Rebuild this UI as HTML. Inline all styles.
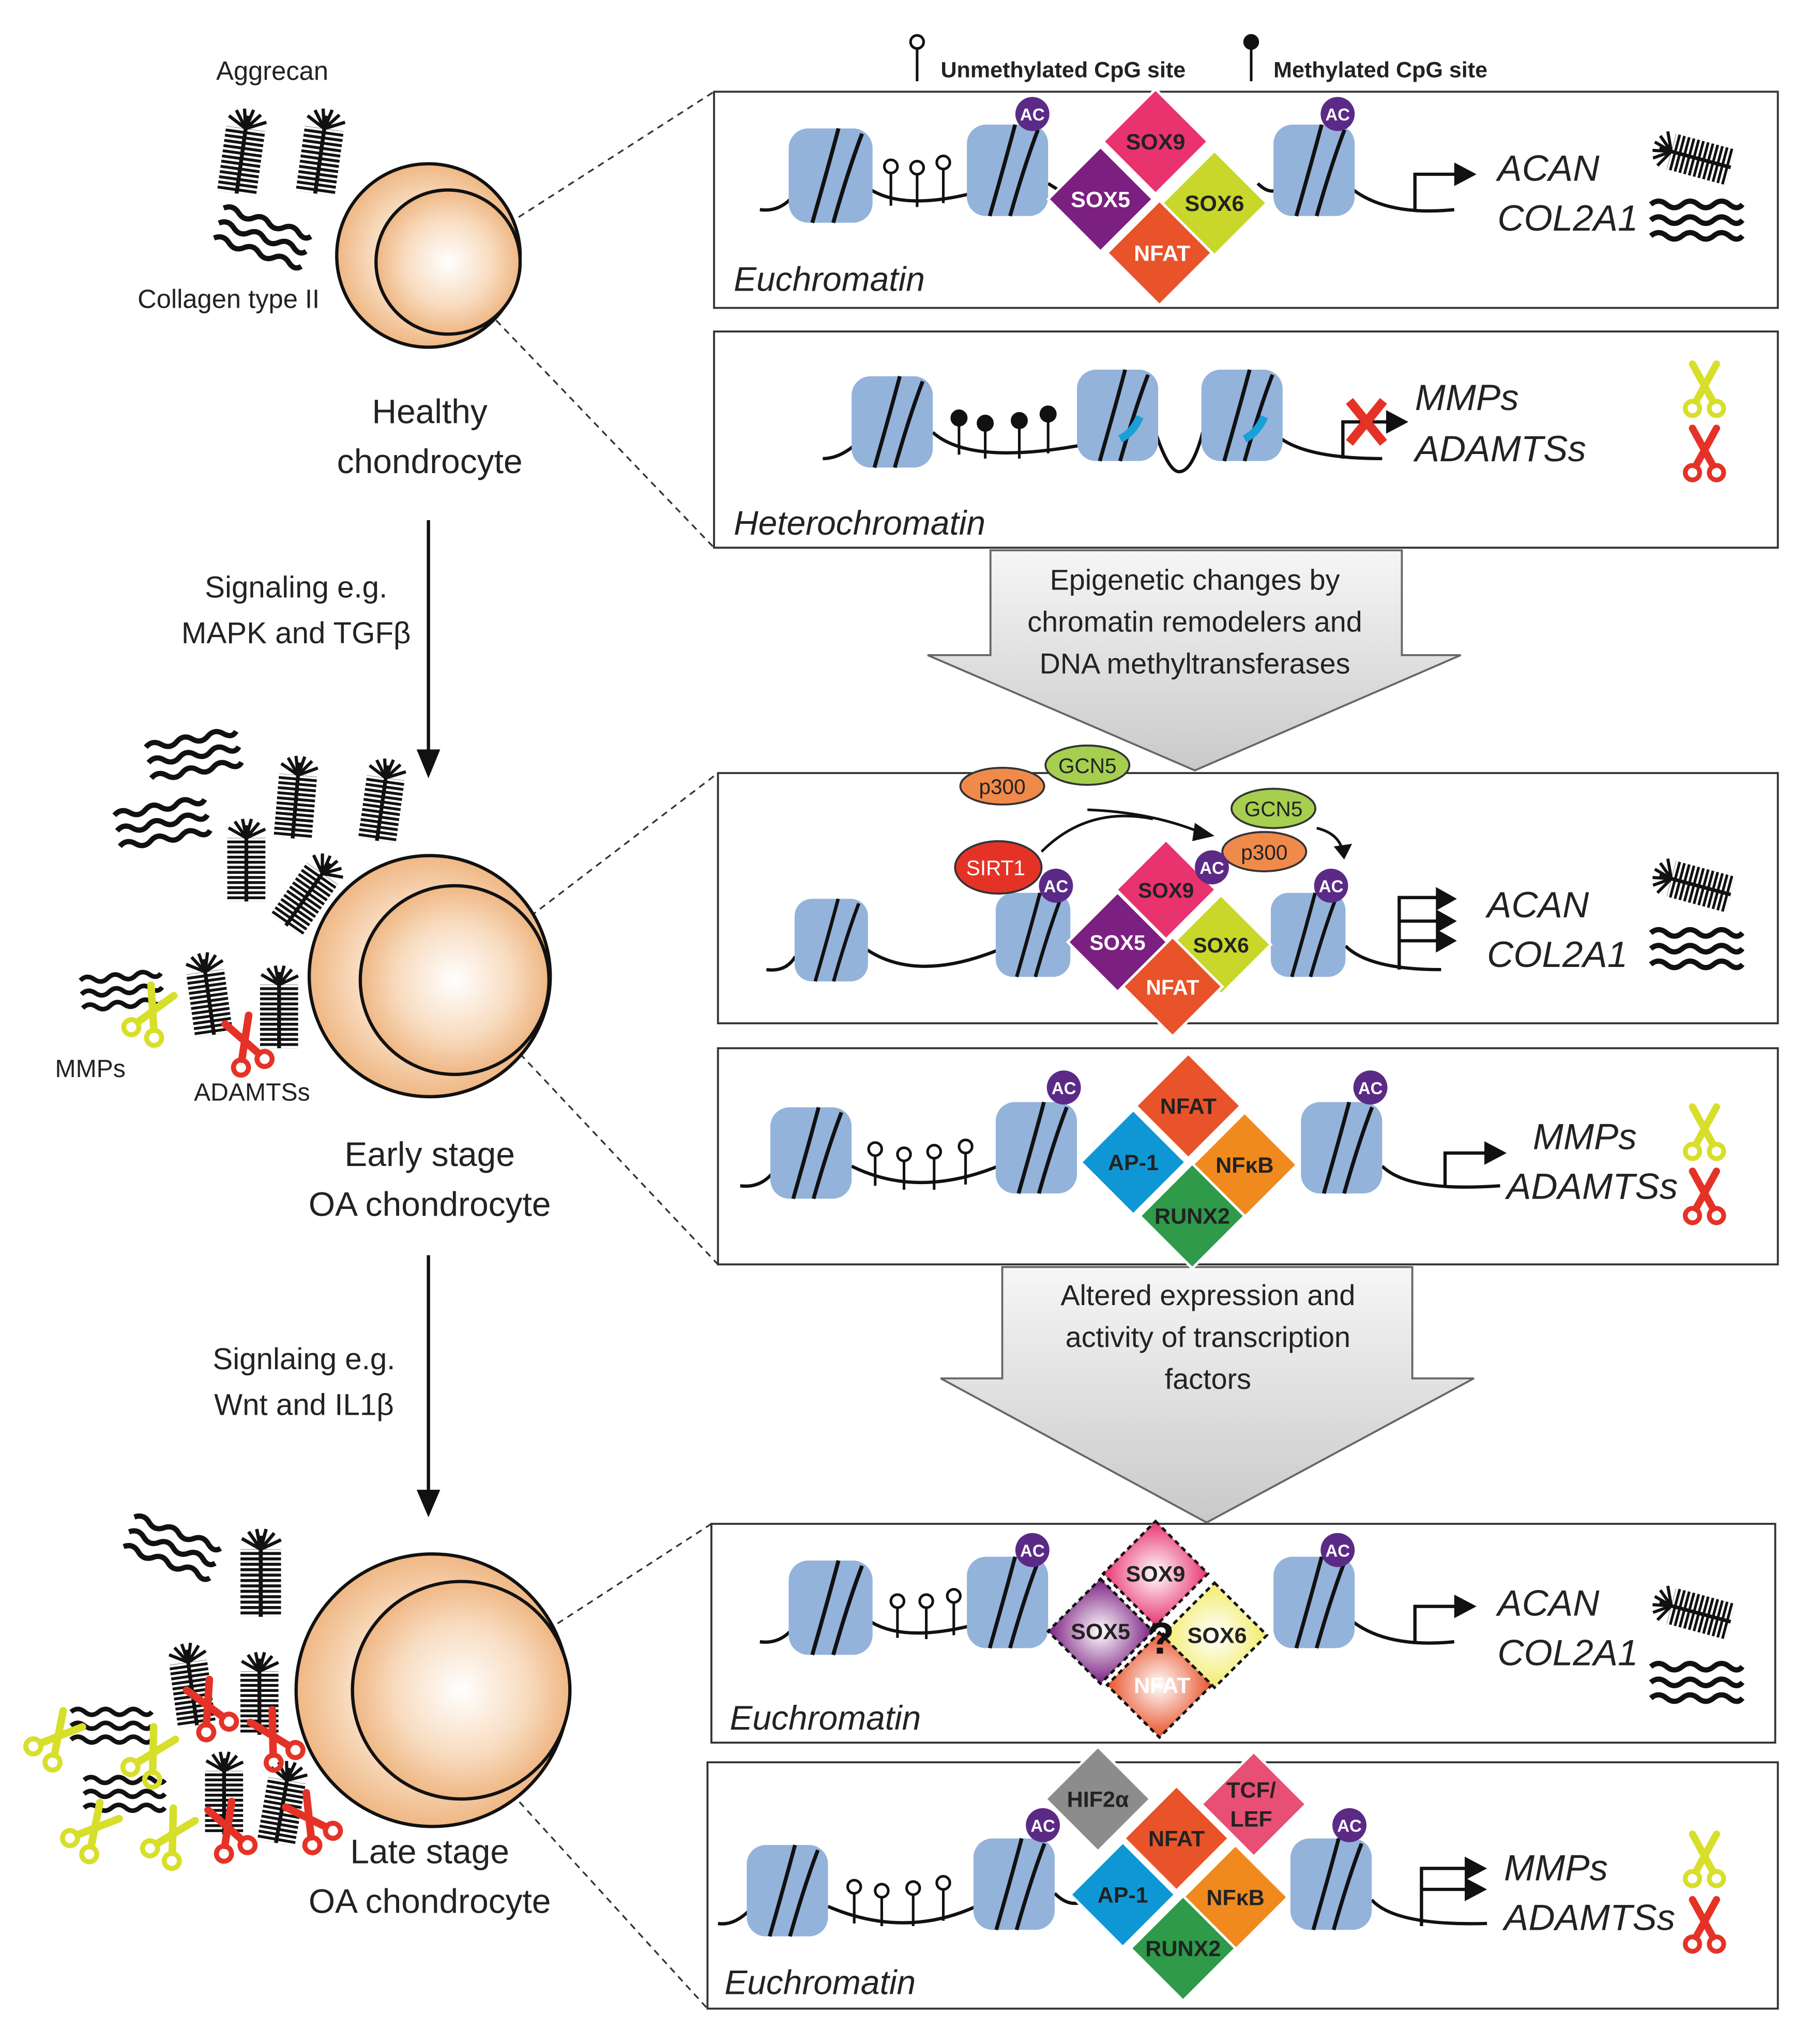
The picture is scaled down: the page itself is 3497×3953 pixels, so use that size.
<!DOCTYPE html>
<html><head><meta charset="utf-8"><style>
html,body{margin:0;padding:0;background:#fff}
svg{display:block}
text{font-family:"Liberation Sans",sans-serif}
</style></head><body>
<svg width="3497" height="3953" viewBox="0 0 1380 1560" xmlns="http://www.w3.org/2000/svg">
<defs>
<radialGradient id="cell" cx="0.5" cy="0.5" r="0.5"><stop offset="0" stop-color="#fff"/><stop offset="0.6" stop-color="#f8dcc0"/><stop offset="1" stop-color="#efb784"/></radialGradient>
<linearGradient id="arr" x1="0" y1="0" x2="0" y2="1"><stop offset="0" stop-color="#f6f6f6"/><stop offset="1" stop-color="#c9c9c9"/></linearGradient>
<symbol id="nuc" viewBox="0 0 64 72" overflow="visible"><rect x="0" y="0" width="64" height="72" rx="15" fill="#93b3da"/><path d="M18 72 Q30 30 38 0 M34 72 Q46 30 56 4" stroke="#111" stroke-width="3" fill="none"/></symbol>
<symbol id="ac" viewBox="-14 -14 28 28" overflow="visible"><circle r="13" fill="#5b2a86"/><text y="5" text-anchor="middle" font-size="13" font-weight="bold" fill="#fff">AC</text></symbol>
<symbol id="sc" viewBox="0 0 40 48" overflow="visible"><g stroke="currentColor" stroke-width="6" fill="none" stroke-linecap="round"><path d="M13 33 L30 2 M27 33 L10 2"/><circle cx="10" cy="39" r="6" stroke-width="4"/><circle cx="30" cy="39" r="6" stroke-width="4"/></g></symbol>
<pattern id="str" width="6" height="4" patternUnits="userSpaceOnUse"><rect width="6" height="2.2" fill="#111"/></pattern>
<symbol id="agg" viewBox="0 0 32 64" overflow="visible"><rect x="1" y="14" width="30" height="50" fill="url(#str)"/><line x1="16" y1="4" x2="16" y2="64" stroke="#111" stroke-width="3"/><path d="M16 14 L2 6 M16 14 L7 1 M16 14 L13 -1 M16 14 L20 -1 M16 14 L26 2 M16 14 L31 7" stroke="#111" stroke-width="2.5"/></symbol>
<symbol id="col" viewBox="0 0 70 34" overflow="visible"><g stroke="#111" stroke-width="4" fill="none"><path d="M0 4 q6 -5 12 0 t12 0 t12 0 t12 0 t12 0 t10 0"/><path d="M0 16 q6 -5 12 0 t12 0 t12 0 t12 0 t12 0 t10 0"/><path d="M0 28 q6 -5 12 0 t12 0 t12 0 t12 0 t12 0 t10 0"/></g></symbol>
</defs>
<rect width="1380" height="1560" fill="#fff"/>

<!-- Legend -->
<g stroke="#111" stroke-width="2"><line x1="700" y1="36" x2="700" y2="62"/><circle cx="700" cy="32" r="5" fill="#fff"/><line x1="955" y1="36" x2="955" y2="62"/><circle cx="955" cy="32" r="5" fill="#111"/></g>
<text x="718" y="59" font-size="17" font-weight="bold" fill="#222">Unmethylated CpG site</text>
<text x="972" y="59" font-size="17" font-weight="bold" fill="#222">Methylated CpG site</text>

<!-- Boxes -->
<g fill="none" stroke="#333" stroke-width="1.5">
<rect x="545" y="70" width="812" height="165"/><rect x="545" y="253" width="812" height="165"/>
<rect x="548" y="590" width="809" height="191"/><rect x="548" y="800" width="809" height="165"/>
<rect x="543" y="1163" width="812" height="167"/><rect x="540" y="1345" width="817" height="188"/>
</g>
<!-- Dashed connectors -->
<g stroke="#333" stroke-width="1.3" stroke-dasharray="5,4">
<line x1="358" y1="190" x2="545" y2="70"/><line x1="360" y1="225" x2="545" y2="418"/>
<line x1="362" y1="732" x2="548" y2="590"/><line x1="360" y1="765" x2="548" y2="965"/>
<line x1="350" y1="1288" x2="543" y2="1163"/><line x1="348" y1="1322" x2="540" y2="1533"/>
</g>

<!-- Big arrows -->
<path d="M756 420 H1070 V500 H1115 L912 588 L708 500 H756 Z" fill="url(#arr)" stroke="#666" stroke-width="1.5"/>
<path d="M765 967 H1078 V1052 H1125 L921 1162 L718 1052 H765 Z" fill="url(#arr)" stroke="#666" stroke-width="1.5"/>
<g font-size="22" fill="#222" text-anchor="middle">
<text x="912" y="450">Epigenetic changes by</text><text x="912" y="482">chromatin remodelers and</text><text x="912" y="514">DNA methyltransferases</text>
<text x="922" y="996">Altered expression and</text><text x="922" y="1028">activity of transcription</text><text x="922" y="1060">factors</text>
</g>

<!-- Cells -->
<circle cx="327" cy="195" r="70" fill="url(#cell)" stroke="#111" stroke-width="2.5"/>
<circle cx="342" cy="200" r="55" fill="url(#cell)" stroke="#111" stroke-width="2.5"/>
<circle cx="328" cy="745" r="92" fill="url(#cell)" stroke="#111" stroke-width="2.5"/>
<circle cx="347" cy="748" r="72" fill="url(#cell)" stroke="#111" stroke-width="2.5"/>
<circle cx="330" cy="1290" r="104" fill="url(#cell)" stroke="#111" stroke-width="2.5"/>
<circle cx="352" cy="1290" r="83" fill="url(#cell)" stroke="#111" stroke-width="2.5"/>

<!-- Vertical arrows -->
<g stroke="#111" stroke-width="2.5"><line x1="327" y1="397" x2="327" y2="578"/><line x1="327" y1="958" x2="327" y2="1143"/></g>
<path d="M318 572 L327 594 L336 572 Z M318 1137 L327 1158 L336 1137 Z" fill="#111"/>

<!-- Left texts -->
<g fill="#222">
<text x="165" y="61" font-size="20">Aggrecan</text>
<text x="105" y="235" font-size="20">Collagen type II</text>
<g font-size="26" text-anchor="middle">
<text x="328" y="323">Healthy</text><text x="328" y="361">chondrocyte</text>
<text x="328" y="890">Early stage</text><text x="328" y="928">OA chondrocyte</text>
<text x="328" y="1422">Late stage</text><text x="328" y="1460">OA chondrocyte</text>
</g>
<g font-size="23" text-anchor="middle">
<text x="226" y="456">Signaling e.g.</text><text x="226" y="491">MAPK and TGFβ</text>
<text x="232" y="1045">Signlaing e.g.</text><text x="232" y="1080">Wnt and IL1β</text>
</g>
<text x="42" y="822" font-size="19">MMPs</text><text x="148" y="840" font-size="19">ADAMTSs</text>
</g>

<!-- Left ECM icons -->
<use href="#agg" x="168" y="84" width="34" height="64" transform="rotate(8 185 116)"/>
<use href="#agg" x="228" y="84" width="34" height="64" transform="rotate(8 245 116)"/>
<use href="#col" x="165" y="165" width="70" height="34" transform="rotate(18 200 182)"/>
<use href="#col" x="112" y="560" width="72" height="34" transform="rotate(-10 148 577)"/>
<use href="#col" x="88" y="612" width="72" height="34" transform="rotate(-10 124 629)"/>
<use href="#agg" x="210" y="578" width="32" height="62" transform="rotate(5 226 609)"/>
<use href="#agg" x="276" y="580" width="32" height="62" transform="rotate(8 292 611)"/>
<use href="#agg" x="172" y="626" width="32" height="62"/>
<use href="#agg" x="220" y="650" width="32" height="62" transform="rotate(35 236 681)"/>
<use href="#col" x="58" y="742" width="70" height="30" transform="rotate(-5 93 757)"/>
<use href="#agg" x="143" y="728" width="32" height="62" transform="rotate(-8 159 759)"/>
<use href="#agg" x="197" y="738" width="32" height="62"/>
<use href="#sc" x="95" y="752" width="40" height="46" color="#d7df2a" transform="rotate(25 115 775)"/>
<use href="#sc" x="168" y="775" width="40" height="46" color="#e53227" transform="rotate(-20 188 798)"/>
<use href="#col" x="95" y="1165" width="72" height="34" transform="rotate(20 131 1182)"/>
<use href="#agg" x="182" y="1168" width="34" height="66"/>
<use href="#agg" x="130" y="1255" width="32" height="62" transform="rotate(-8 146 1286)"/>
<use href="#agg" x="182" y="1262" width="32" height="62"/>
<use href="#col" x="50" y="1303" width="70" height="30"/>
<use href="#col" x="60" y="1355" width="70" height="30"/>
<use href="#agg" x="155" y="1338" width="32" height="62"/>
<use href="#agg" x="200" y="1345" width="32" height="62" transform="rotate(10 216 1376)"/>
<use href="#sc" x="22" y="1305" width="40" height="46" color="#d7df2a" transform="rotate(40 42 1328)"/>
<use href="#sc" x="95" y="1318" width="40" height="46" color="#d7df2a" transform="rotate(30 115 1341)"/>
<use href="#sc" x="140" y="1282" width="40" height="46" color="#e53227" transform="rotate(-25 160 1305)"/>
<use href="#sc" x="190" y="1305" width="40" height="46" color="#e53227" transform="rotate(-30 210 1328)"/>
<use href="#sc" x="50" y="1375" width="40" height="46" color="#d7df2a" transform="rotate(40 70 1398)"/>
<use href="#sc" x="110" y="1380" width="40" height="46" color="#d7df2a" transform="rotate(30 130 1403)"/>
<use href="#sc" x="155" y="1375" width="40" height="46" color="#e53227" transform="rotate(-20 175 1398)"/>
<use href="#sc" x="218" y="1368" width="40" height="46" color="#e53227" transform="rotate(-35 238 1391)"/>

<!-- ===== Box1 ===== -->
<path d="M580 160 Q595 162 605 150 M665 145 Q690 160 740 148 M800 140 Q815 150 830 155 M960 140 Q968 148 975 145 M1033 145 Q1060 165 1110 160" stroke="#111" stroke-width="2.5" fill="none"/>
<use href="#nuc" x="602" y="98" width="64" height="72"/>
<use href="#nuc" x="738" y="94" width="62" height="72"/>
<use href="#nuc" x="972" y="94" width="62" height="72"/>
<g stroke="#111" stroke-width="2" fill="#fff"><line x1="680" y1="132" x2="680" y2="157"/><line x1="700" y1="132" x2="700" y2="158"/><line x1="720" y1="128" x2="720" y2="155"/><circle cx="680" cy="127" r="5"/><circle cx="700" cy="128" r="5"/><circle cx="720" cy="124" r="5"/></g>
<use href="#ac" x="774" y="73" width="28" height="28"/><use href="#ac" x="1007" y="73" width="28" height="28"/>
<g stroke="#fff" stroke-width="2" font-size="17" font-weight="bold" text-anchor="middle">
<polygon points="882,68 922,108 882,148 842,108" fill="#e8336f"/>
<polygon points="840,112 880,152 840,192 800,152" fill="#7b1f80"/>
<polygon points="927,115 967,155 927,195 887,155" fill="#c8d72a"/>
<polygon points="885,153 925,193 885,233 845,193" fill="#e8532a"/>
</g>
<g font-size="17" font-weight="bold" text-anchor="middle"><text x="882" y="114" fill="#222">SOX9</text><text x="840" y="158" fill="#fff">SOX5</text><text x="927" y="161" fill="#222">SOX6</text><text x="887" y="199" fill="#fff">NFAT</text></g>
<path d="M1080 160 V133 H1112" stroke="#111" stroke-width="2.5" fill="none"/><path d="M1110 124 L1127 133 L1110 142 Z" fill="#111"/>
<g font-size="28" font-style="italic" fill="#222"><text x="1143" y="138">ACAN</text><text x="1143" y="176">COL2A1</text><text x="560" y="222" font-size="26">Euchromatin</text></g>
<use href="#agg" x="1277" y="88" width="30" height="64" transform="rotate(-75 1292 120)"/>
<use href="#col" x="1260" y="152" width="70" height="34"/>

<!-- ===== Box2 ===== -->
<path d="M628 350 Q640 350 652 340 M712 330 Q740 355 824 340 M882 330 Q892 360 900 360 Q910 360 918 330 M978 335 Q1000 350 1055 350" stroke="#111" stroke-width="2.5" fill="none"/>
<use href="#nuc" x="650" y="287" width="62" height="70"/>
<use href="#nuc" x="822" y="282" width="62" height="70"/>
<use href="#nuc" x="917" y="282" width="62" height="70"/>
<path d="M855 335 Q865 330 870 318 M950 335 Q960 330 965 318" stroke="#1aa0d8" stroke-width="6" fill="none"/>
<g stroke="#111" stroke-width="2" fill="#111"><line x1="732" y1="322" x2="732" y2="347"/><line x1="752" y1="326" x2="752" y2="350"/><line x1="778" y1="324" x2="778" y2="350"/><line x1="800" y1="318" x2="800" y2="346"/><circle cx="732" cy="319" r="5.5"/><circle cx="752" cy="323" r="5.5"/><circle cx="778" cy="321" r="5.5"/><circle cx="800" cy="316" r="5.5"/></g>
<path d="M1025 350 V322 H1060" stroke="#111" stroke-width="2.5" fill="none"/><path d="M1058 313 L1075 322 L1058 331 Z" fill="#111"/>
<path d="M1030 306 L1056 338 M1056 306 L1030 338" stroke="#e53227" stroke-width="7"/>
<g font-size="28" font-style="italic" fill="#222"><text x="1080" y="313">MMPs</text><text x="1080" y="352">ADAMTSs</text><text x="560" y="408" font-size="26">Heterochromatin</text></g>
<use href="#sc" x="1282" y="276" width="38" height="44" color="#d7df2a"/>
<use href="#sc" x="1282" y="325" width="38" height="44" color="#e53227"/>

<!-- ===== Box3 ===== -->
<path d="M585 740 Q600 742 607 730 M662 725 Q700 750 762 725 M1027 722 Q1045 740 1100 740" stroke="#111" stroke-width="2.5" fill="none"/>
<use href="#nuc" x="606" y="686" width="57" height="63"/>
<use href="#nuc" x="760" y="681" width="57" height="65"/>
<use href="#nuc" x="970" y="681" width="57" height="65"/>
<path d="M830 618 Q880 620 918 636" stroke="#111" stroke-width="2" fill="none"/><path d="M912 628 L927 638 L910 642 Z" fill="#111"/>
<path d="M795 650 Q830 615 880 625" stroke="#111" stroke-width="2" fill="none"/>
<path d="M1005 632 Q1022 636 1025 650" stroke="#111" stroke-width="2" fill="none"/><path d="M1018 646 L1026 656 L1032 644 Z" fill="#111"/>
<g stroke="#333" stroke-width="1.5" font-size="17" text-anchor="middle">
<ellipse cx="765" cy="600" rx="32" ry="14" fill="#f08a4b"/><ellipse cx="830" cy="584" rx="32" ry="15" fill="#a6cf4f"/>
<ellipse cx="972" cy="617" rx="32" ry="15" fill="#a6cf4f"/><ellipse cx="965" cy="650" rx="32" ry="15" fill="#f08a4b"/>
<ellipse cx="762" cy="662" rx="33" ry="20" fill="#e53227"/>
</g>
<g font-size="16" text-anchor="middle" fill="#222"><text x="765" y="606">p300</text><text x="830" y="590">GCN5</text><text x="972" y="623">GCN5</text><text x="965" y="656">p300</text><text x="760" y="668" fill="#fff">SIRT1</text></g>
<g stroke="#fff" stroke-width="2">
<polygon points="890,641 928,679 890,717 852,679" fill="#e8336f"/>
<polygon points="853,681 891,719 853,757 815,719" fill="#7b1f80"/>
<polygon points="932,683 970,721 932,759 894,721" fill="#c8d72a"/>
<polygon points="895,715 933,753 895,791 857,753" fill="#e8532a"/>
</g>
<g font-size="16" font-weight="bold" text-anchor="middle"><text x="890" y="685" fill="#222">SOX9</text><text x="853" y="725" fill="#fff">SOX5</text><text x="932" y="727" fill="#222">SOX6</text><text x="895" y="759" fill="#fff">NFAT</text></g>
<use href="#ac" x="792" y="662" width="28" height="28"/><use href="#ac" x="911" y="648" width="28" height="28"/><use href="#ac" x="1002" y="662" width="28" height="28"/>
<path d="M1068 740 V685 H1098 M1068 703 H1098 M1068 718 H1098" stroke="#111" stroke-width="2.5" fill="none"/>
<path d="M1096 677 L1112 686 L1096 695 Z M1096 694 L1112 703 L1096 712 Z M1096 709 L1112 718 L1096 727 Z" fill="#111"/>
<g font-size="28" font-style="italic" fill="#222"><text x="1135" y="700">ACAN</text><text x="1135" y="738">COL2A1</text></g>
<use href="#agg" x="1277" y="643" width="30" height="64" transform="rotate(-75 1292 675)"/>
<use href="#col" x="1260" y="708" width="70" height="34"/>

<!-- ===== Box4 ===== -->
<path d="M565 905 Q580 907 590 895 M650 890 Q700 915 762 890 M1055 890 Q1075 910 1145 905" stroke="#111" stroke-width="2.5" fill="none"/>
<use href="#nuc" x="588" y="845" width="62" height="70"/>
<use href="#nuc" x="760" y="840" width="62" height="72"/>
<use href="#nuc" x="993" y="840" width="62" height="72"/>
<g stroke="#111" stroke-width="2" fill="#fff"><line x1="668" y1="882" x2="668" y2="905"/><line x1="690" y1="886" x2="690" y2="908"/><line x1="713" y1="884" x2="713" y2="908"/><line x1="737" y1="880" x2="737" y2="904"/><circle cx="668" cy="877" r="5"/><circle cx="690" cy="881" r="5"/><circle cx="713" cy="879" r="5"/><circle cx="737" cy="875" r="5"/></g>
<g stroke="#fff" stroke-width="2">
<polygon points="907,804 947,844 907,884 867,844" fill="#e8532a"/>
<polygon points="865,847 905,887 865,927 825,887" fill="#0f97d5"/>
<polygon points="950,849 990,889 950,929 910,889" fill="#f08a1e"/>
<polygon points="910,888 950,928 910,968 870,928" fill="#2e9a4a"/>
</g>
<g font-size="17" font-weight="bold" text-anchor="middle" fill="#222"><text x="907" y="850">NFAT</text><text x="865" y="893">AP-1</text><text x="950" y="895">NFκB</text><text x="910" y="934">RUNX2</text></g>
<use href="#ac" x="798" y="816" width="28" height="28"/><use href="#ac" x="1032" y="816" width="28" height="28"/>
<path d="M1103 905 V880 H1135" stroke="#111" stroke-width="2.5" fill="none"/><path d="M1133 871 L1150 880 L1133 889 Z" fill="#111"/>
<g font-size="28" font-style="italic" fill="#222"><text x="1170" y="877">MMPs</text><text x="1150" y="915">ADAMTSs</text></g>
<use href="#sc" x="1282" y="843" width="38" height="44" color="#d7df2a"/>
<use href="#sc" x="1282" y="892" width="38" height="44" color="#e53227"/>

<!-- ===== Box5 ===== -->
<path d="M580 1253 Q595 1255 605 1243 M665 1238 Q690 1253 740 1241 M1033 1238 Q1060 1258 1110 1253" stroke="#111" stroke-width="2.5" fill="none"/>
<use href="#nuc" x="602" y="1191" width="64" height="72"/>
<use href="#nuc" x="738" y="1187" width="62" height="72"/>
<use href="#nuc" x="972" y="1187" width="62" height="72"/>
<g stroke="#111" stroke-width="2" fill="#fff"><line x1="685" y1="1227" x2="685" y2="1250"/><line x1="707" y1="1227" x2="707" y2="1251"/><line x1="728" y1="1223" x2="728" y2="1248"/><circle cx="685" cy="1222" r="5"/><circle cx="707" cy="1222" r="5"/><circle cx="728" cy="1218" r="5"/></g>
<defs>
<radialGradient id="g9"><stop offset="0" stop-color="#fff"/><stop offset="1" stop-color="#e8336f"/></radialGradient>
<radialGradient id="g5"><stop offset="0" stop-color="#fff"/><stop offset="1" stop-color="#7b1f80"/></radialGradient>
<radialGradient id="g6"><stop offset="0" stop-color="#fff"/><stop offset="1" stop-color="#f2ec6a"/></radialGradient>
<radialGradient id="gn"><stop offset="0" stop-color="#fff"/><stop offset="1" stop-color="#e8532a"/></radialGradient>
</defs>
<g stroke="#111" stroke-width="2" stroke-dasharray="4,3">
<polygon points="882,1161 922,1201 882,1241 842,1201" fill="url(#g9)"/>
<polygon points="840,1205 880,1245 840,1285 800,1245" fill="url(#g5)"/>
<polygon points="927,1208 967,1248 927,1288 887,1248" fill="url(#g6)"/>
<polygon points="885,1246 925,1286 885,1326 845,1286" fill="url(#gn)"/>
</g>
<g font-size="17" font-weight="bold" text-anchor="middle" fill="#222"><text x="882" y="1207">SOX9</text><text x="840" y="1251">SOX5</text><text x="929" y="1254">SOX6</text><text x="887" y="1292" fill="#fff">NFAT</text></g>
<text x="886" y="1262" font-size="34" font-weight="bold" text-anchor="middle" fill="#111">?</text>
<use href="#ac" x="774" y="1169" width="28" height="28"/><use href="#ac" x="1007" y="1169" width="28" height="28"/>
<path d="M1080 1253 V1226 H1112" stroke="#111" stroke-width="2.5" fill="none"/><path d="M1110 1217 L1127 1226 L1110 1235 Z" fill="#111"/>
<g font-size="28" font-style="italic" fill="#222"><text x="1143" y="1233">ACAN</text><text x="1143" y="1271">COL2A1</text><text x="557" y="1320" font-size="26">Euchromatin</text></g>
<use href="#agg" x="1277" y="1198" width="30" height="64" transform="rotate(-75 1292 1230)"/>
<use href="#col" x="1260" y="1268" width="70" height="34"/>

<!-- ===== Box6 ===== -->
<path d="M548 1468 Q560 1470 572 1458 M632 1455 Q690 1480 745 1455 M805 1445 Q815 1455 825 1452 M1047 1450 Q1065 1470 1135 1468" stroke="#111" stroke-width="2.5" fill="none"/>
<use href="#nuc" x="570" y="1408" width="62" height="70"/>
<use href="#nuc" x="743" y="1403" width="62" height="70"/>
<use href="#nuc" x="985" y="1403" width="62" height="70"/>
<g stroke="#111" stroke-width="2" fill="#fff"><line x1="652" y1="1445" x2="652" y2="1468"/><line x1="673" y1="1448" x2="673" y2="1470"/><line x1="697" y1="1446" x2="697" y2="1470"/><line x1="720" y1="1442" x2="720" y2="1466"/><circle cx="652" cy="1440" r="5"/><circle cx="673" cy="1443" r="5"/><circle cx="697" cy="1441" r="5"/><circle cx="720" cy="1437" r="5"/></g>
<g stroke="#fff" stroke-width="2">
<polygon points="838,1333 878,1373 838,1413 798,1373" fill="#8c8c8c"/>
<polygon points="957,1337 997,1377 957,1417 917,1377" fill="#e84f74"/>
<polygon points="898,1363 938,1403 898,1443 858,1403" fill="#e8532a"/>
<polygon points="857,1406 897,1446 857,1486 817,1446" fill="#0f97d5"/>
<polygon points="943,1408 983,1448 943,1488 903,1448" fill="#f08a1e"/>
<polygon points="903,1447 943,1487 903,1527 863,1487" fill="#2e9a4a"/>
</g>
<g font-size="17" font-weight="bold" text-anchor="middle" fill="#222"><text x="838" y="1379">HIF2α</text><text x="955" y="1372">TCF/</text><text x="955" y="1394">LEF</text><text x="898" y="1409">NFAT</text><text x="857" y="1452">AP-1</text><text x="943" y="1454">NFκB</text><text x="903" y="1493">RUNX2</text></g>
<use href="#ac" x="782" y="1379" width="28" height="28"/><use href="#ac" x="1016" y="1379" width="28" height="28"/>
<path d="M1085 1470 V1426 H1120 M1085 1442 H1120" stroke="#111" stroke-width="2.5" fill="none"/>
<path d="M1118 1417 L1135 1426 L1118 1435 Z M1118 1433 L1135 1442 L1118 1451 Z" fill="#111"/>
<g font-size="28" font-style="italic" fill="#222"><text x="1148" y="1435">MMPs</text><text x="1148" y="1473">ADAMTSs</text><text x="553" y="1522" font-size="26">Euchromatin</text></g>
<use href="#sc" x="1282" y="1398" width="38" height="44" color="#d7df2a"/>
<use href="#sc" x="1282" y="1448" width="38" height="44" color="#e53227"/>
</svg>
</body></html>
